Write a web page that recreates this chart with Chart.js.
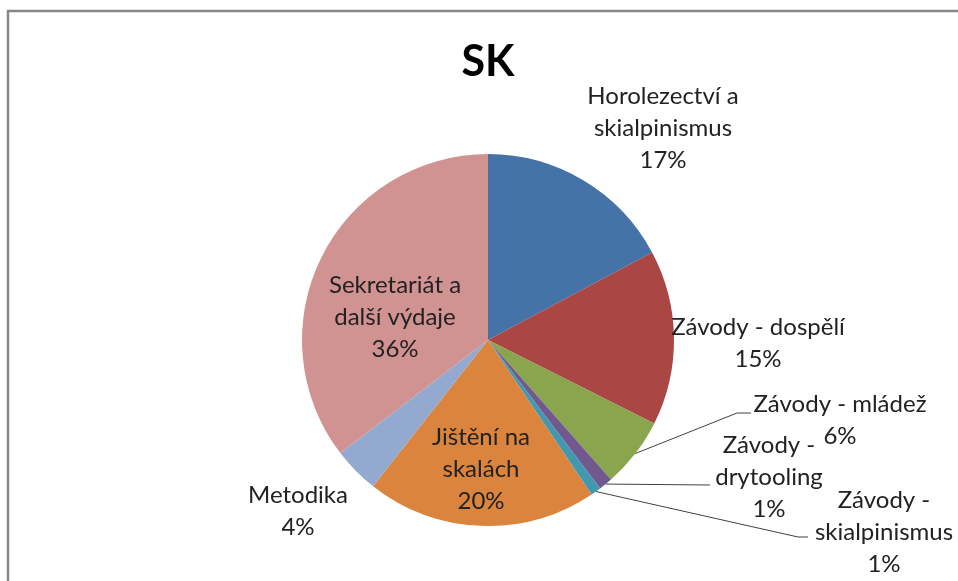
<!doctype html>
<html lang="cs">

<head>
    <meta charset="utf-8">
    <title>SK</title>
    <script src="https://cdn.jsdelivr.net/npm/chart.js"></script>
    <style>
        html, body { margin: 0; padding: 0; background: #fff; }
        .chartBox { width: 958px; height: 581px; }
    </style>
</head>

<body>
    <div class="chartBox">
        <canvas id="myChart" width="958" height="581"></canvas>
    </div>

    <script>
        // setup
        const title = 'SK';
        const labels = ['Horolezectví a skialpinismus', 'Závody - dospělí', 'Závody - mládež', 'Závody - drytooling',
            'Závody - skialpinismus', 'Jištění na skalách', 'Metodika', 'Sekretariát a další výdaje'];
        const values = [17.2, 15.2, 6.1, 1.2, 0.9, 20.0, 4.0, 35.4];
        const percentLabels = ['17%', '15%', '6%', '1%', '1%', '20%', '4%', '36%'];
        const colors = ['#4572A7', '#AA4643', '#89A54E', '#71588F', '#4198AF', '#DB843D', '#93A9CF', '#D19392'];

        // where each label sits (text lines, centre x, first line y) and optional leader elbow
        const labelLayout = [
            { lines: ['Horolezectví a', 'skialpinismus'], x: 663, y: 96 },
            { lines: ['Závody - dospělí'], x: 758, y: 327 },
            { lines: ['Závody - mládež'], x: 840, y: 404, elbow: [737, 413], end: [751, 413] },
            { lines: ['Závody -', 'drytooling'], x: 769, y: 445, elbow: [710, 485], end: [710, 485] },
            { lines: ['Závody -', 'skialpinismus'], x: 884, y: 500, elbow: [798, 537], end: [808, 537] },
            { lines: ['Jištění na', 'skalách'], x: 481, y: 437 },
            { lines: ['Metodika'], x: 298, y: 495 },
            { lines: ['Sekretariát a', 'další výdaje'], x: 395, y: 285 }
        ];
        const lineHeight = 32;
        const labelFont = '24px Lato, "Open Sans", sans-serif';

        const labelsPlugin = {
            id: 'sliceLabels',
            beforeDraw(chart) {
                const ctx = chart.ctx;
                ctx.save();
                ctx.strokeStyle = '#878787';
                ctx.lineWidth = 2.5;
                ctx.strokeRect(8, 11, 1200, 1000);
                ctx.restore();
            },
            afterDraw(chart) {
                const ctx = chart.ctx;
                const meta = chart.getDatasetMeta(0);
                ctx.save();
                // title
                ctx.fillStyle = '#000';
                ctx.font = 'bold 43px Lato, "Open Sans", sans-serif';
                ctx.textAlign = 'center';
                ctx.textBaseline = 'middle';
                ctx.fillText(title, 488, 62);

                // leader lines
                ctx.strokeStyle = '#404040';
                ctx.lineWidth = 1;
                meta.data.forEach((arc, i) => {
                    const lay = labelLayout[i];
                    if (!lay.elbow) return;
                    const p = arc.getProps(['x', 'y', 'startAngle', 'endAngle', 'outerRadius'], true);
                    const mid = (p.startAngle + p.endAngle) / 2;
                    const sx = p.x + Math.cos(mid) * p.outerRadius;
                    const sy = p.y + Math.sin(mid) * p.outerRadius;
                    ctx.beginPath();
                    ctx.moveTo(sx, sy);
                    ctx.lineTo(lay.elbow[0], lay.elbow[1]);
                    ctx.lineTo(lay.end[0], lay.end[1]);
                    ctx.stroke();
                });

                // texts
                ctx.font = labelFont;
                ctx.fillStyle = '#222';
                labelLayout.forEach((lay, i) => {
                    const rows = lay.lines.concat([percentLabels[i]]);
                    rows.forEach((t, k) => {
                        ctx.fillText(t, lay.x, lay.y + k * lineHeight);
                    });
                });
                ctx.restore();
            }
        };

        const data = {
            labels: labels,
            datasets: [{
                data: values,
                backgroundColor: colors,
                borderWidth: 0
            }]
        };

        // config
        const config = {
            type: 'pie',
            data,
            options: {
                responsive: false,
                animation: false,
                layout: { padding: { top: 154, bottom: 55, left: 18, right: 0 } },
                plugins: {
                    legend: { display: false },
                    tooltip: { enabled: false }
                }
            },
            plugins: [labelsPlugin]
        };

        const myChart = new Chart(document.getElementById('myChart'), config);
    </script>

</body>

</html>
